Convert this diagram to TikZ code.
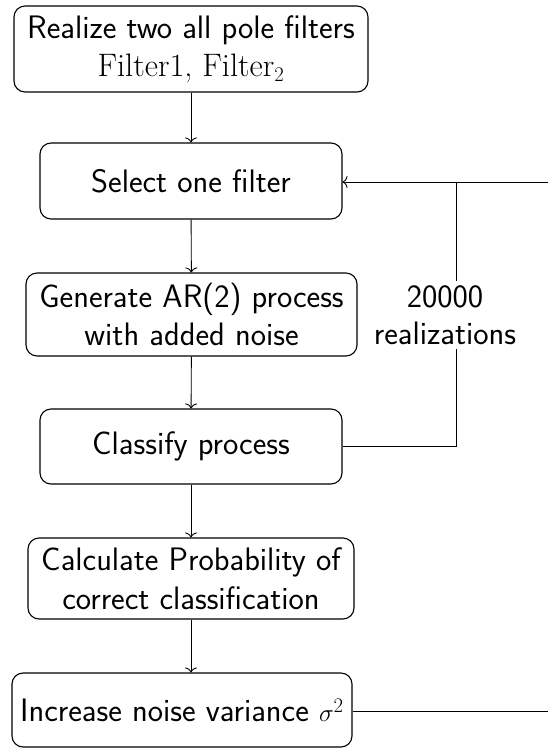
\documentclass[tikz,border=0pt]{standalone}
\usetikzlibrary{arrows.meta}
\begin{document}
\begin{tikzpicture}[x=1pt,y=-1pt,
  box/.style={draw, line width=1.1pt, rounded corners=11pt, align=center, inner sep=0pt,
    font=\fontsize{32.5}{38.5}\selectfont\sffamily},
  conn/.style={line width=0.9pt},
  arr/.style={conn, -{To[length=5pt,width=12pt]}},
  lbl/.style={align=center, fill=white, inner sep=4pt, font=\fontsize{32.5}{37}\selectfont\sffamily}]
\path[use as bounding box] (0,0) rectangle (548,748);
\node[box, minimum width=354pt, minimum height=86pt] (b1) at (191,49)
  {Realize two all pole filters\\ \rmfamily Filter1, Filter$_2$};
\node[box, minimum width=302pt, minimum height=76pt] (b2) at (191,181) {Select one filter};
\node[box, minimum width=331pt, minimum height=83pt] (b3) at (191.5,314.5) {Generate AR(2) process\\ with added noise};
\node[box, minimum width=302pt, minimum height=75pt] (b4) at (191,446.5) {Classify process};
\node[box, minimum width=326pt, minimum height=81pt] (b5) at (191,578.5) {Calculate Probability of\\ correct classification};
\node[box, minimum width=340pt, minimum height=74pt] (b6) at (182,710) {Increase noise variance $\sigma^2$};
\coordinate (r1) at (548,182);
\coordinate (j1) at (456,182);
\coordinate (r6) at (548,711);
\draw[arr] (b1) -- (b2);
\draw[arr] (b2) -- (b3);
\draw[arr] (b3) -- (b4);
\draw[arr] (b4) -- (b5);
\draw[arr] (b5.south) -- (b5.south |- b6.north);
\draw[arr] (r1) -- (b2.east |- r1);
\draw[conn] (b4.east) -| (j1);
\draw[conn] (b6.east |- r6) -- (r6);
\node[lbl] (lab) at (445,315) {20000\\ realizations};
\end{tikzpicture}
\end{document}
